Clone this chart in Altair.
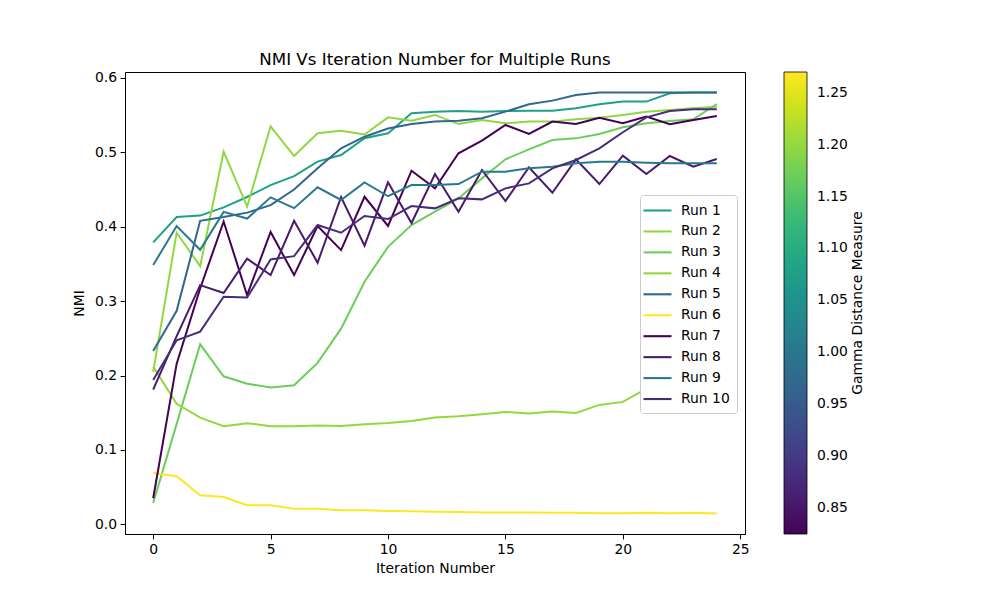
import altair as alt
import pandas as pd

iterations = list(range(25))
runs = [f"Run {i}" for i in range(1, 11)]
gamma = [1.079, 1.199, 1.172, 1.201, 0.972, 1.270, 0.825, 0.852, 0.999, 0.878]
run_colors = ["#1fa187", "#90d743", "#6ccd5a", "#93d741", "#31668e",
              "#fde725", "#440154", "#481a6c", "#2a788e", "#472c7a"]

run1 = [0.379, 0.413, 0.415, 0.426, 0.440, 0.456, 0.468, 0.4875, 0.4964, 0.519, 0.5256, 0.5525, 0.5547,
        0.5556, 0.5547, 0.5556, 0.556, 0.556, 0.5593, 0.5646, 0.5682, 0.5682, 0.5794, 0.5803, 0.5803]
run2 = [0.205, 0.392, 0.347, 0.501, 0.427, 0.535, 0.495, 0.5256, 0.529, 0.524, 0.547, 0.5426, 0.5503,
        0.538, 0.5435, 0.539, 0.5413, 0.5413, 0.5444, 0.5466, 0.5503, 0.5547, 0.557, 0.5592, 0.5614]
run3 = [0.0287, 0.135, 0.242, 0.199, 0.189, 0.184, 0.187, 0.217, 0.263, 0.326, 0.373, 0.4023, 0.4202,
        0.438, 0.465, 0.4906, 0.504, 0.5166, 0.5188, 0.5247, 0.5337, 0.539, 0.5422, 0.5444, 0.565]
run4 = [0.212, 0.162, 0.1435, 0.132, 0.136, 0.132, 0.1318, 0.133, 0.1323, 0.1345, 0.1363, 0.139, 0.1435,
        0.1453, 0.148, 0.1511, 0.1489, 0.1516, 0.1498, 0.1605, 0.1646, 0.1825, 0.1937, 0.2184, 0.2318]
run5 = [0.233, 0.287, 0.408, 0.413, 0.419, 0.429, 0.450, 0.4785, 0.5054, 0.521, 0.532, 0.538, 0.5413,
        0.5426, 0.5458, 0.5547, 0.5646, 0.5695, 0.5772, 0.5803, 0.5803, 0.5803, 0.5803, 0.5803, 0.5803]
run6 = [0.069, 0.0646, 0.039, 0.0368, 0.0256, 0.0256, 0.021, 0.0208, 0.0188, 0.0188, 0.0179, 0.0175, 0.017,
        0.0165, 0.016, 0.016, 0.016, 0.0155, 0.0155, 0.015, 0.015, 0.0155, 0.015, 0.0155, 0.0145]
run7 = [0.035, 0.216, 0.317, 0.407, 0.308, 0.393, 0.335, 0.401, 0.3686, 0.4403, 0.401, 0.4753, 0.4516,
        0.4987, 0.5157, 0.5368, 0.5247, 0.5413, 0.5381, 0.5466, 0.539, 0.548, 0.5377, 0.5435, 0.5489]
run8 = [0.181, 0.253, 0.3215, 0.311, 0.357, 0.335, 0.408, 0.3516, 0.440, 0.3745, 0.4597, 0.405, 0.4709,
        0.4202, 0.4763, 0.4345, 0.4799, 0.4457, 0.4906, 0.4574, 0.4955, 0.4709, 0.4951, 0.4807, 0.491]
run9 = [0.3485, 0.401, 0.369, 0.420, 0.411, 0.4395, 0.425, 0.453, 0.436, 0.4597, 0.441, 0.456, 0.456,
        0.4574, 0.474, 0.474, 0.4785, 0.4807, 0.4852, 0.4874, 0.4874, 0.486, 0.4852, 0.4852, 0.4852]
run10 = [0.194, 0.2475, 0.259, 0.306, 0.305, 0.356, 0.3605, 0.4023, 0.392, 0.4144, 0.4103, 0.4278, 0.4247,
         0.4382, 0.4368, 0.4516, 0.4583, 0.4785, 0.4897, 0.5054, 0.527, 0.5471, 0.5556, 0.5579, 0.5579]

series = [run1, run2, run3, run4, run5, run6, run7, run8, run9, run10]
x_ticks = [0, 5, 10, 15, 20, 25]
y_ticks = [0.0, 0.1, 0.2, 0.3, 0.4, 0.5, 0.6]
cbar_ticks = [0.85, 0.90, 0.95, 1.00, 1.05, 1.10, 1.15, 1.20, 1.25]
cbar_title = ["Gamma Distance Measure"]

rows = []
for k, (name, vals) in enumerate(zip(runs, series)):
    for it, v in zip(iterations, vals):
        rows.append({"run": name, "iteration": it, "nmi": v, "k": k})
df = pd.DataFrame(rows)
gdf = pd.DataFrame({"run": runs, "gamma": gamma})

FONT = "DejaVu Sans"

lines = alt.Chart(df).mark_line(strokeWidth=2).encode(
    x=alt.X("iteration:Q",
            scale=alt.Scale(domain=[-1.2, 25.2], nice=False, zero=False),
            axis=alt.Axis(values=x_ticks, format="d", title="Iteration Number")),
    y=alt.Y("nmi:Q",
            scale=alt.Scale(domain=[-0.013, 0.608], nice=False, zero=False),
            axis=alt.Axis(values=y_ticks, format=".1f", title="NMI", titlePadding=8)),
    color=alt.Color("run:N",
                    scale=alt.Scale(domain=runs, range=run_colors),
                    legend=alt.Legend(title=None, orient="none", legendX=515, legendY=123,
                                      symbolType="M-2,0L2,0", symbolSize=196, symbolStrokeWidth=2.1,
                                      symbolOffset=2,
                                      labelFontSize=13.9, labelFont=FONT, labelColor="black",
                                      labelOffset=15, rowPadding=4.95, padding=7,
                                      strokeColor="#cccccc", fillColor="white", cornerRadius=3)),
    detail="k:N",
)

cbar = alt.Chart(gdf).mark_point(size=0, filled=True, opacity=1).encode(
    x=alt.value(0), y=alt.value(0),
    color=alt.Color("gamma:Q",
                    scale=alt.Scale(scheme="viridis", domain=[0.825, 1.27]),
                    legend=alt.Legend(title=None, orient="none",
                                      legendX=659, legendY=0, direction="vertical",
                                      gradientLength=462, gradientThickness=23,
                                      gradientOpacity=1,
                                      gradientStrokeColor="black", gradientStrokeWidth=0.8,
                                      values=cbar_ticks, format=".2f", labelOverlap=False,
                                      labelOffset=10, labelFontSize=13.9, labelFont=FONT,
                                      labelColor="black", padding=0)),
)

cbar_label = alt.Chart(pd.DataFrame({"t": cbar_title})).mark_text(
    angle=270, font=FONT, fontSize=13.9, color="black", align="center", baseline="middle"
).encode(x=alt.value(733), y=alt.value(231), text="t:N")

chart = alt.layer(lines, cbar, cbar_label).resolve_scale(color="independent").properties(
    width=620, height=462,
    title=alt.TitleParams("NMI Vs Iteration Number for Multiple Runs", fontSize=16.7, font=FONT,
                          fontWeight="normal", color="black", anchor="middle", offset=2),
    autosize=alt.AutoSizeParams(type="none"),
    padding={"left": 117, "top": 64, "right": 240, "bottom": 50},
).configure_view(stroke="black", strokeWidth=1).configure_axis(
    grid=False, domainColor="black", tickColor="black", labelColor="black", titleColor="black",
    labelFont=FONT, titleFont=FONT, labelFontSize=13.9, titleFontSize=13.9, titleFontWeight="normal",
    tickSize=4.9, labelPadding=3.5, titlePadding=5, domainWidth=1, tickWidth=1,
)

chart.save("out.html", embed_options={"renderer": "svg", "actions": False})
